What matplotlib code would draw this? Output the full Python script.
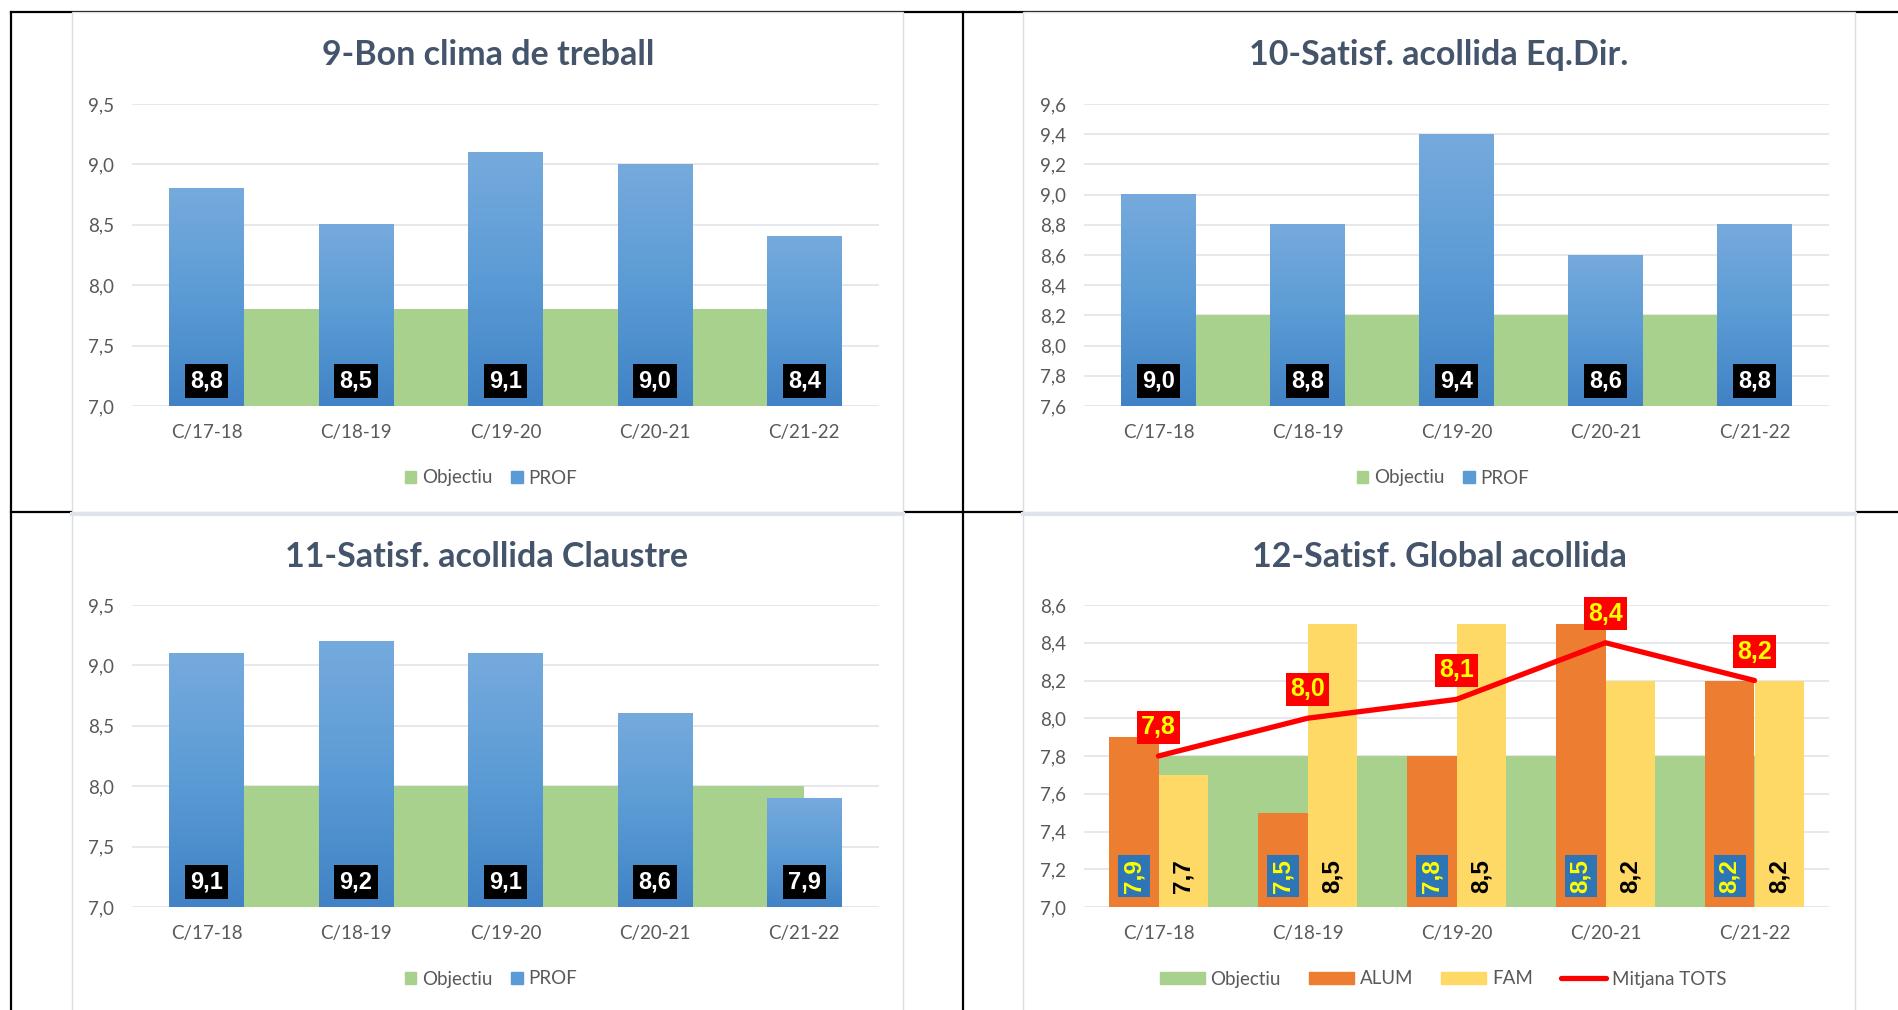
import numpy as np
import matplotlib
matplotlib.use('Agg')
import matplotlib.pyplot as plt
from matplotlib.colors import LinearSegmentedColormap
from matplotlib.lines import Line2D
from matplotlib.patches import Patch, Rectangle
from matplotlib.ticker import FuncFormatter

plt.rcParams['font.family'] = ['Lato', 'DejaVu Sans']

cursos = ['C/17-18', 'C/18-19', 'C/19-20', 'C/20-21', 'C/21-22']

clima_obj = [7.8, 7.8, 7.8, 7.8, 7.8]
clima_prof = [8.8, 8.5, 9.1, 9.0, 8.4]

eqdir_obj = [8.2, 8.2, 8.2, 8.2, 8.2]
eqdir_prof = [9.0, 8.8, 9.4, 8.6, 8.8]

claustre_obj = [8.0, 8.0, 8.0, 8.0, 8.0]
claustre_prof = [9.1, 9.2, 9.1, 8.6, 7.9]

global_obj = [7.8, 7.8, 7.8, 7.8, 7.8]
global_alum = [7.9, 7.5, 7.8, 8.5, 8.2]
global_fam = [7.7, 8.5, 8.5, 8.2, 8.2]
global_mitjana = [7.8, 8.0, 8.1, 8.4, 8.2]

W, H = 1899, 1010
GREEN = '#a9d18e'
ORANGE = '#ed7d31'
YELLOW = '#ffd966'
BLUE = '#5b9bd5'
TITLE_C = '#44546a'
TEXT_C = '#595959'
GRID_C = '#e1e4ea'
ARIAL = ['Liberation Sans', 'DejaVu Sans']

prof_cmap = LinearSegmentedColormap.from_list('prof', ['#4082c5', '#5b9bd5', '#76aadd'])


def fx(px):
    return px / W


def fy(py):
    return 1 - py / H


def fmt(v):
    return f'{v:.1f}'.replace('.', ',')


def style_axis(ax, ymin, ymax, n):
    ax.set_facecolor('none')
    ax.set_xlim(-0.5, 4.5)
    ax.set_ylim(ymin, ymax)
    ax.set_yticks(np.linspace(ymin, ymax, n))
    ax.yaxis.set_major_formatter(FuncFormatter(lambda v, p: fmt(v)))
    ax.set_xticks(range(len(cursos)), cursos)
    ax.grid(axis='y', color=GRID_C, lw=1.2)
    ax.set_axisbelow(True)
    for s in ax.spines.values():
        s.set_visible(False)
    ax.tick_params(length=0, labelsize=13.5, labelcolor=TEXT_C)
    ax.tick_params(axis='y', pad=13)
    ax.tick_params(axis='x', pad=13)


def prof_chart(ax, obj, prof, ymin, ymax, n):
    x = np.arange(len(cursos))
    # objectiu fills the space between category centres
    ax.bar(x[:-1], np.array(obj[:-1]) - ymin, width=1.0, bottom=ymin, align='edge',
           color=GREEN, zorder=1)
    grad = np.linspace(0, 1, 256).reshape(-1, 1)
    bars = ax.bar(x, np.array(prof) - ymin, width=0.5, bottom=ymin, color='none', zorder=2)
    for b in bars:
        x0, y0 = b.get_x(), b.get_y()
        ax.imshow(grad, extent=(x0, x0 + b.get_width(), y0, y0 + b.get_height()),
                  origin='lower', aspect='auto', cmap=prof_cmap, zorder=2)
    for xi, v in zip(x, prof):
        ax.annotate(fmt(v), xy=(xi, ymin), xytext=(0, 25), textcoords='offset pixels',
                    ha='center', va='center', color='white', fontsize=17, fontweight='bold',
                    family=ARIAL, zorder=5,
                    bbox=dict(boxstyle='square,pad=0.22', fc='black', ec='none'))
    style_axis(ax, ymin, ymax, n)


fig = plt.figure(figsize=(W / 100, H / 100), dpi=100)

# table lines behind the chart panels
for py in (12, 512):
    fig.add_artist(Line2D([fx(11), 1], [fy(py), fy(py)], color='black', lw=1.6, zorder=-3))
for px in (11, 963):
    fig.add_artist(Line2D([fx(px), fx(px)], [fy(12), 0], color='black', lw=1.6, zorder=-3))

for left, right in ((72, 903), (1023, 1855)):
    fig.add_artist(Rectangle((fx(left), fy(512)), fx(right) - fx(left), 500 / H,
                             transform=fig.transFigure, fc='white', ec='#d9dde4', lw=1, zorder=-2))
    fig.add_artist(Rectangle((fx(left), fy(1015)), fx(right) - fx(left), 502 / H,
                             transform=fig.transFigure, fc='white', ec='#d9dde4', lw=1, zorder=-2))
    fig.add_artist(Line2D([fx(left), fx(right)], [fy(514), fy(514)], color='#dfe3ea', lw=3, zorder=-1))

ax1 = fig.add_axes([fx(132), fy(406), 747 / W, 302 / H])
ax2 = fig.add_axes([fx(1084), fy(406), 745 / W, 302 / H])
ax3 = fig.add_axes([fx(132), fy(907), 747 / W, 302 / H])
ax4 = fig.add_axes([fx(1084), fy(907), 745 / W, 302 / H])

prof_chart(ax1, clima_obj, clima_prof, 7.0, 9.5, 6)
prof_chart(ax2, eqdir_obj, eqdir_prof, 7.6, 9.6, 11)
prof_chart(ax3, claustre_obj, claustre_prof, 7.0, 9.5, 6)

# 12 - global
ymin = 7.0
x = np.arange(len(cursos))
ax4.bar(x[:-1], np.array(global_obj[:-1]) - ymin, width=1.0, bottom=ymin, align='edge',
        color=GREEN, zorder=1)
ax4.bar(x - 1 / 6, np.array(global_alum) - ymin, width=1 / 3, bottom=ymin, color=ORANGE, zorder=2)
ax4.bar(x + 1 / 6, np.array(global_fam) - ymin, width=1 / 3, bottom=ymin, color=YELLOW, zorder=2)
ax4.plot(x, global_mitjana, color='#ff0000', lw=3.8, solid_capstyle='round', zorder=3)
for xi, a, f, m in zip(x, global_alum, global_fam, global_mitjana):
    ax4.annotate(fmt(a), xy=(xi - 1 / 6, ymin), xytext=(0, 31), textcoords='offset pixels',
                 ha='center', va='center', rotation=90, color='#ffff00', fontsize=17.5,
                 fontweight='bold', family=ARIAL, zorder=5,
                 bbox=dict(boxstyle='square,pad=0.18', fc='#2e75b6', ec='none'))
    ax4.annotate(fmt(f), xy=(xi + 1 / 6, ymin), xytext=(0, 31), textcoords='offset pixels',
                 ha='center', va='center', rotation=90, color='black', fontsize=17.5,
                 fontweight='bold', family=ARIAL, zorder=5)
    ax4.annotate(fmt(m), xy=(xi, m), xytext=(0, 29), textcoords='offset pixels',
                 ha='center', va='center', color='#ffff00', fontsize=18,
                 fontweight='bold', family=ARIAL, zorder=6,
                 bbox=dict(boxstyle='square,pad=0.18', fc='#ff0000', ec='none'))
style_axis(ax4, 7.0, 8.6, 9)

titles = [
    ('9-Bon clima de treball', 488, 65),
    ('10-Satisf. acollida Eq.Dir.', 1439, 65),
    ('11-Satisf. acollida Claustre', 487, 567),
    ('12-Satisf. Global acollida', 1439, 567),
]
for t, px, py in titles:
    fig.text(fx(px), fy(py), t, ha='center', va='baseline', fontsize=24.5,
             fontweight='bold', color=TITLE_C)

prof_handles = [Patch(color=GREEN), Patch(color=BLUE)]
for px, py in ((491, 478), (1443, 478), (491, 979)):
    fig.legend(prof_handles, ['Objectiu', 'PROF'], loc='center',
               bbox_to_anchor=(fx(px), fy(py)), ncol=2, frameon=False, fontsize=13.5,
               handlelength=0.62, handleheight=0.62, handletextpad=0.3, columnspacing=1.0,
               labelcolor=TEXT_C)

global_handles = [Patch(color=GREEN), Patch(color=ORANGE), Patch(color=YELLOW),
                  Line2D([], [], color='#ff0000', lw=3.8, solid_capstyle='round')]
fig.legend(global_handles, ['Objectiu', 'ALUM', 'FAM', 'Mitjana TOTS'], loc='center',
           bbox_to_anchor=(fx(1443), fy(979)), ncol=4, frameon=False, fontsize=13.5,
           handlelength=2.4, handleheight=0.65, handletextpad=0.3, columnspacing=1.5,
           labelcolor=TEXT_C)

fig.savefig('out.png', dpi=100, facecolor='white')
